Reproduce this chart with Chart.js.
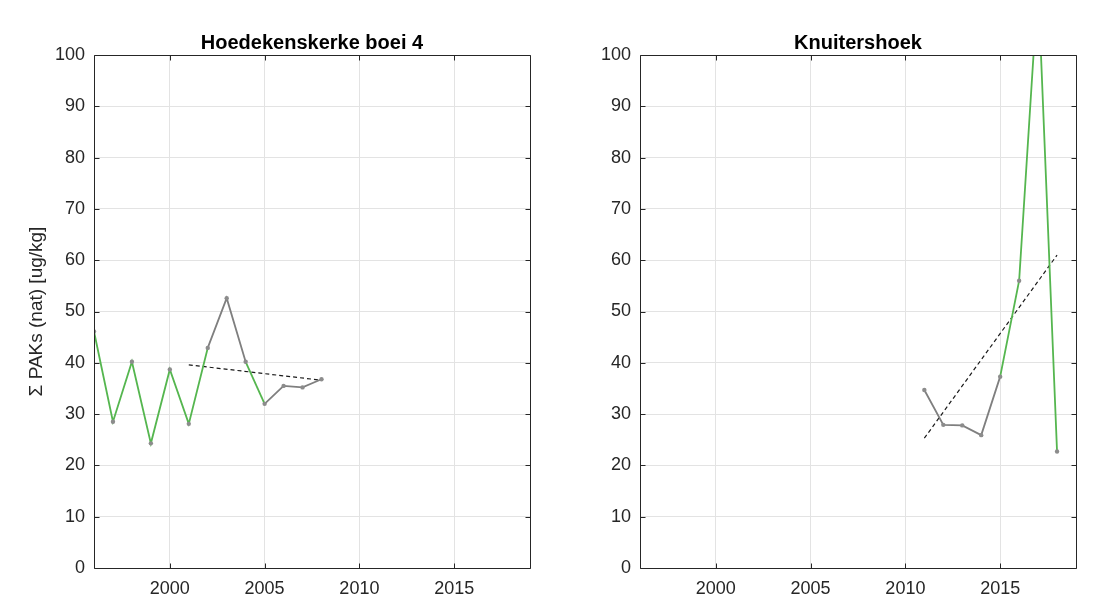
<!DOCTYPE html>
<html>
<head>
<meta charset="utf-8">
<script src="https://cdn.jsdelivr.net/npm/chart.js"></script>
<style>
  html, body { margin: 0; padding: 0; background: #fff; }
  body { width: 1096px; height: 604px; position: relative; overflow: hidden; }
  .panel { position: absolute; top: 0; width: 548px; height: 604px; }
  #leftPanel { left: 0; }
  #rightPanel { left: 546px; }
</style>
</head>
<body>
<div class="panel" id="leftPanel"><canvas id="leftChart" width="548" height="604"></canvas></div>
<div class="panel" id="rightPanel"><canvas id="rightChart" width="548" height="604"></canvas></div>
<script>
// --- data ---
const yLabel = 'Σ PAKs (nat) [ug/kg]';
const xTicks = [2000, 2005, 2010, 2015];
const yTicks = [0, 10, 20, 30, 40, 50, 60, 70, 80, 90, 100];

const hoedTitle = 'Hoedekenskerke boei 4';
const hoedYears = [1996, 1997, 1998, 1999, 2000, 2001, 2002, 2003, 2004, 2005, 2006, 2007, 2008];
const hoedValues = [46.1, 28.5, 40.2, 24.3, 38.7, 28.1, 42.9, 52.6, 40.2, 32.0, 35.5, 35.2, 36.8];
const hoedTrendYears = [2001, 2008];
const hoedTrendValues = [39.6, 36.6];

const knuitTitle = 'Knuitershoek';
const knuitYears = [2011, 2012, 2013, 2014, 2015, 2016, 2017, 2018];
const knuitValues = [34.7, 27.9, 27.8, 25.9, 37.3, 56.0, 114, 22.7];
const knuitTrendYears = [2011, 2018];
const knuitTrendValues = [25.3, 61.0];

// segments (by start index) that are drawn green instead of grey
const hoedGreenSegs = [0, 1, 2, 3, 4, 5, 8];
const knuitGreenSegs = [4, 5, 6];

const GREEN = '#55b64f';
const GREY = '#7f7f7f';
const INK = '#262626';

Chart.defaults.font.family = '"Liberation Sans", Arial, Helvetica, sans-serif';
Chart.defaults.color = INK;

// MATLAB style box with inward tick marks
const framePlugin = {
  id: 'frame',
  afterDatasetsDraw(chart) {
    const { ctx, chartArea: a, scales: { x, y } } = chart;
    const L = Math.round(a.left) + 0.5, R = Math.round(a.right) + 0.5;
    const T = Math.round(a.top) + 0.5, B = Math.round(a.bottom) + 0.5;
    ctx.save();
    ctx.strokeStyle = INK;
    ctx.lineWidth = 1;
    ctx.beginPath();
    ctx.rect(L, T, R - L, B - T);
    xTicks.forEach(v => {
      const px = Math.round(x.getPixelForValue(v)) + 0.5;
      ctx.moveTo(px, B); ctx.lineTo(px, B - 5);
      ctx.moveTo(px, T); ctx.lineTo(px, T + 5);
    });
    yTicks.forEach(v => {
      const py = Math.round(y.getPixelForValue(v)) + 0.5;
      ctx.moveTo(L, py); ctx.lineTo(L + 5, py);
      ctx.moveTo(R, py); ctx.lineTo(R - 5, py);
    });
    ctx.stroke();
    ctx.restore();
  }
};

function toPoints(xs, ys) {
  return xs.map((v, i) => ({ x: v, y: ys[i] }));
}

function makePanel(canvasId, title, years, values, trendYears, trendValues, greenSegs, showYLabel) {
  new Chart(document.getElementById(canvasId), {
    type: 'line',
    data: {
      datasets: [
        {
          data: toPoints(trendYears, trendValues),
          borderColor: '#1a1a1a',
          borderWidth: 1.2,
          borderDash: [4, 3],
          pointRadius: 0,
          order: 2
        },
        {
          data: toPoints(years, values),
          borderWidth: 1.8,
          segment: {
            borderColor: c => greenSegs.includes(c.p0DataIndex) ? GREEN : GREY
          },
          pointRadius: 2.2,
          pointBorderWidth: 0,
          pointBackgroundColor: '#8c8c8c',
          order: 1
        }
      ]
    },
    options: {
      responsive: false,
      animation: false,
      layout: { padding: { right: 18 } },
      plugins: {
        legend: { display: false },
        tooltip: { enabled: false },
        title: {
          display: true,
          text: title,
          fullSize: false,
          color: '#000',
          font: { size: 20, weight: 'bold', lineHeight: 1.2 },
          padding: { top: 31, bottom: 0 }
        }
      },
      scales: {
        x: {
          type: 'linear',
          min: 1996,
          max: 2019,
          afterFit: s => { s.height = 36; },
          afterBuildTicks: s => { s.ticks = xTicks.map(v => ({ value: v })); },
          ticks: { padding: 10, font: { size: 18 }, color: INK, callback: v => String(v) },
          grid: { color: '#e3e3e3', drawTicks: false },
          border: { display: false }
        },
        y: {
          min: 0,
          max: 100,
          afterFit: s => { s.width = 94; },
          afterBuildTicks: s => { s.ticks = yTicks.map(v => ({ value: v })); },
          ticks: { padding: 9, font: { size: 18 }, color: INK },
          grid: { color: '#e3e3e3', drawTicks: false },
          border: { display: false },
          title: {
            display: showYLabel,
            text: yLabel,
            color: INK,
            font: { size: 19, lineHeight: 1.2 },
            padding: { top: 25, bottom: 0 }
          }
        }
      }
    },
    plugins: [framePlugin]
  });
}

makePanel('leftChart', hoedTitle, hoedYears, hoedValues, hoedTrendYears, hoedTrendValues, hoedGreenSegs, true);
makePanel('rightChart', knuitTitle, knuitYears, knuitValues, knuitTrendYears, knuitTrendValues, knuitGreenSegs, false);
</script>
</body>
</html>
